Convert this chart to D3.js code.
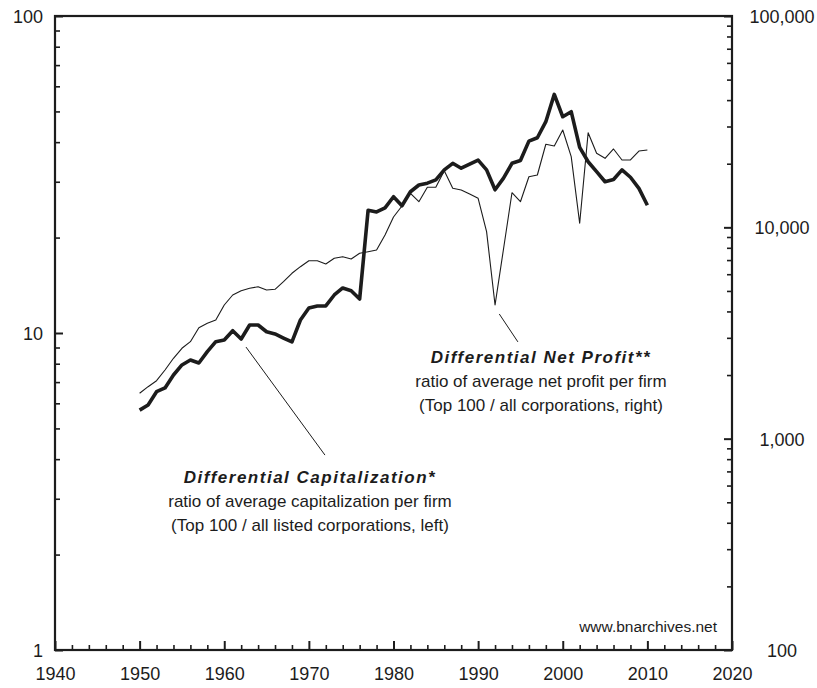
<!DOCTYPE html>
<html>
<head>
<meta charset="utf-8">
<script src="https://cdn.jsdelivr.net/npm/d3@7"></script>
<style>
  html, body { margin: 0; padding: 0; background: #fff; }
  svg { display: block; font-family: "Liberation Sans", Arial, Helvetica, sans-serif; }
</style>
</head>
<body>
<svg id="chart" width="817" height="688"></svg>
<script>
// ---- DATA ----
const years = d3.range(1950, 2011);
// Differential capitalization (left axis)
const capitalization = [
  5.71, 5.93, 6.53, 6.71, 7.37, 7.93, 8.22, 8.04, 8.73, 9.39,
  9.50, 10.17, 9.57, 10.6, 10.6, 10.09, 9.93, 9.64, 9.37, 10.99,
  11.99, 12.17, 12.17, 13.18, 13.87, 13.6, 12.80, 24.4, 24.1, 24.8,
  26.9, 25.2, 27.9, 29.3, 29.7, 30.4, 32.7, 34.3, 33.1, 34.1,
  35.1, 32.7, 28.3, 30.8, 34.3, 35.0, 40.3, 41.3, 46.4, 56.6,
  48.1, 49.9, 38.5, 34.7, 32.3, 30.0, 30.5, 32.7, 31.0, 28.6,
  25.3
];
// Differential net profit (right axis)
const netProfit = [
  1640, 1762, 1881, 2113, 2401, 2677, 2877, 3350, 3515, 3643,
  4290, 4785, 5015, 5147, 5238, 5053, 5091, 5531, 6061, 6513,
  6953, 6953, 6707, 7138, 7264, 7084, 7538, 7671, 7815, 9199,
  11190, 12620, 14490, 13220, 15470, 15470, 18530, 15300, 15020, 14380,
  13720, 9537, 4290, 7899, 14580, 13220, 17360, 17690, 24720, 24260,
  28880, 21600, 10450, 28040, 22400, 21210, 23480, 20830, 20830, 22970,
  23230
];
const xTicks = [1940, 1950, 1960, 1970, 1980, 1990, 2000, 2010, 2020];
const leftTicks = [1, 10, 100];
const rightTicks = [100, 1000, 10000, 100000];
const leftTickLabels = ["1", "10", "100"];
const rightTickLabels = ["100", "1,000", "10,000", "100,000"];

// ---- LAYOUT ----
const svg = d3.select("#chart");
const L = 55, R = 732, T = 16, B = 650;
const x = d3.scaleLinear().domain([1940, 2020]).range([L, R]);
const yL = d3.scaleLog().domain([1, 100]).range([B, T]);
const yR = d3.scaleLog().domain([100, 100000]).range([B, T]);
const ink = "#1c1c1c";

function minorLog(lo, hi) {
  const out = [];
  for (let d = lo; d < hi; d *= 10) for (let k = 2; k <= 9; k++) out.push(d * k);
  return out;
}
const xMinor = d3.range(1940, 2021, 2).filter(v => v % 10 !== 0);

function styleAxis(g, w) {
  g.select(".domain").remove();
  g.selectAll("line").attr("stroke", ink).attr("stroke-width", w);
  g.selectAll("text").attr("fill", ink);
}

// left axis
svg.append("g").attr("transform", `translate(${L},0)`)
  .call(d3.axisLeft(yL).tickValues(minorLog(1, 100)).tickSize(-5).tickFormat(""))
  .call(g => styleAxis(g, 1.6));
svg.append("g").attr("transform", `translate(${L},0)`)
  .call(d3.axisLeft(yL).tickValues(leftTicks).tickSize(-8).tickPadding(12)
        .tickFormat((d, i) => leftTickLabels[i]))
  .call(g => styleAxis(g, 2))
  .call(g => g.selectAll("text").attr("font-size", 18).attr("dy", "0.36em").attr("font-family", "Liberation Sans, Arial, sans-serif"));

// right axis
svg.append("g").attr("transform", `translate(${R},0)`)
  .call(d3.axisRight(yR).tickValues(minorLog(100, 100000)).tickSize(-5).tickFormat(""))
  .call(g => styleAxis(g, 1.6));
svg.append("g").attr("transform", `translate(${R},0)`)
  .call(d3.axisRight(yR).tickValues(rightTicks).tickSize(-8).tickPadding(50)
        .tickFormat((d, i) => rightTickLabels[i]))
  .call(g => styleAxis(g, 2))
  .call(g => g.selectAll("text").attr("font-size", 18).attr("dy", "0.36em")
        .attr("text-anchor", "middle").attr("font-family", "Liberation Sans, Arial, sans-serif"));

// bottom axis
svg.append("g").attr("transform", `translate(0,${B})`)
  .call(d3.axisBottom(x).tickValues(xMinor).tickSize(-5).tickFormat(""))
  .call(g => styleAxis(g, 1.6));
svg.append("g").attr("transform", `translate(0,${B})`)
  .call(d3.axisBottom(x).tickValues(xTicks).tickSize(-9).tickPadding(17).tickFormat(d3.format("d")))
  .call(g => styleAxis(g, 2))
  .call(g => g.selectAll("text").attr("font-size", 18).attr("dy", "0.71em").attr("font-family", "Liberation Sans, Arial, sans-serif"));

// frame
svg.append("rect").attr("x", L).attr("y", T).attr("width", R - L).attr("height", B - T)
  .attr("fill", "none").attr("stroke", ink).attr("stroke-width", 2.2);

// lines
const lineCap = d3.line().x((d, i) => x(years[i])).y(d => yL(d));
const lineNP = d3.line().x((d, i) => x(years[i])).y(d => yR(d));

svg.append("path").datum(netProfit).attr("d", lineNP)
  .attr("fill", "none").attr("stroke", ink).attr("stroke-width", 1.1).attr("stroke-linejoin", "round");
svg.append("path").datum(capitalization).attr("d", lineCap)
  .attr("fill", "none").attr("stroke", ink).attr("stroke-width", 3.6).attr("stroke-linejoin", "round");

// leader lines (anchored in data space)
svg.append("line")
  .attr("x1", x(1992.5)).attr("y1", yR(3890))
  .attr("x2", x(1994.7)).attr("y2", yR(2870))
  .attr("stroke", ink).attr("stroke-width", 1);
svg.append("line")
  .attr("x1", x(1962.57)).attr("y1", yL(9.03))
  .attr("x2", x(1971.9)).attr("y2", yL(4.12))
  .attr("stroke", ink).attr("stroke-width", 1);

// annotations
function block(cx, y0, lines) {
  const t = svg.append("g").attr("fill", ink).attr("text-anchor", "middle");
  lines.forEach((ln, i) => {
    t.append("text").attr("x", cx).attr("y", y0 + i * 24)
      .attr("font-size", 17)
      .attr("font-weight", i === 0 ? "bold" : "normal")
      .attr("font-style", i === 0 ? "italic" : "normal")
      .attr("letter-spacing", i === 0 ? 1.5 : 0)
      .text(ln);
  });
}
block(541, 363, ["Differential Net Profit**", "ratio of average net profit per firm", "(Top 100 / all corporations, right)"]);
block(310, 483, ["Differential Capitalization*", "ratio of average capitalization per firm", "(Top 100 / all listed corporations, left)"]);

svg.append("text").attr("x", 717).attr("y", 632).attr("text-anchor", "end")
  .attr("font-size", 15.5).attr("fill", ink).text("www.bnarchives.net");
</script>
</body>
</html>
